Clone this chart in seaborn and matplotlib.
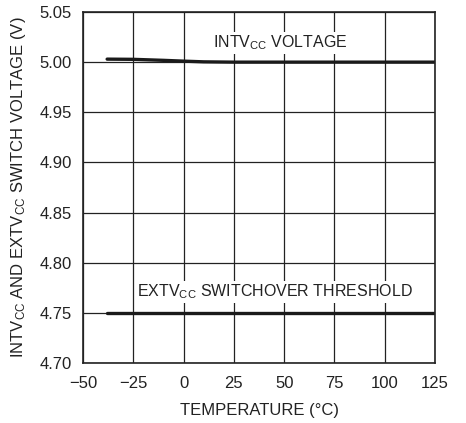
import matplotlib
matplotlib.use("Agg")
import matplotlib.pyplot as plt
import seaborn as sns
import pandas as pd
from matplotlib import font_manager

temp_intv = [-38, -25, -10, 0, 10, 25, 50, 75, 100, 125]
intv = [5.003, 5.0028, 5.0018, 5.001, 5.0003, 5.0, 5.0, 5.0, 5.0, 5.0]
temp_ext = [-38, -25, 0, 25, 50, 75, 100, 125]
ext = [4.75, 4.75, 4.75, 4.75, 4.75, 4.75, 4.75, 4.75]
xticks = [-50, -25, 0, 25, 50, 75, 100, 125]
xtick_labels = ["\u221250", "\u221225", "0", "25", "50", "75", "100", "125"]
yticks = [4.70, 4.75, 4.80, 4.85, 4.90, 4.95, 5.00, 5.05]

sns.set_theme(style="white")
names = {f.name for f in font_manager.fontManager.ttflist}
fam = "Liberation Sans Narrow" if "Liberation Sans Narrow" in names else "Liberation Sans"
plt.rcParams['font.family'] = [fam, 'DejaVu Sans']
plt.rcParams['mathtext.fontset'] = 'custom'
plt.rcParams['mathtext.rm'] = fam
plt.rcParams['mathtext.it'] = fam

fig = plt.figure(figsize=(4.66, 4.23), dpi=100)
ax = fig.add_axes([83/466, 1-363/423, (435-83)/466, (363-12)/423])

df1 = pd.DataFrame({"t": temp_intv, "v": intv})
df2 = pd.DataFrame({"t": temp_ext, "v": ext})
sns.lineplot(data=df1, x="t", y="v", ax=ax, color="#1a1a1a", linewidth=2.4)
sns.lineplot(data=df2, x="t", y="v", ax=ax, color="#1a1a1a", linewidth=2.4)

ax.set_xlim(-50, 125)
ax.set_ylim(4.70, 5.05)
ax.set_xticks(xticks)
ax.set_xticklabels(xtick_labels)
ax.set_yticks(yticks)
ax.set_yticklabels([f"{v:.2f}" for v in yticks])
ax.grid(True, color="#222222", linewidth=0.9)
for s in ax.spines.values():
    s.set_color("#222222")
    s.set_linewidth(1.2)
ax.tick_params(axis="both", labelsize=12, length=0, colors="#222222")
ax.tick_params(axis="x", pad=9)
ax.tick_params(axis="y", pad=8)
ax.set_xlabel("TEMPERATURE (\u00b0C)", fontsize=12, color="#222222", labelpad=9)
ax.set_ylabel("INTV$_{\\mathrm{CC}}$ AND EXTV$_{\\mathrm{CC}}$ SWITCH VOLTAGE (V)", fontsize=12, color="#222222", labelpad=8)

ax.text(48, 5.019, "INTV$_{\\mathrm{CC}}$ VOLTAGE", ha="center", va="center", fontsize=11.5, color="#222222",
        bbox=dict(facecolor="white", edgecolor="none", pad=1))
ax.text(45.5, 4.771, "EXTV$_{\\mathrm{CC}}$ SWITCHOVER THRESHOLD", ha="center", va="center", fontsize=11.5, color="#222222",
        bbox=dict(facecolor="white", edgecolor="none", pad=1))

fig.savefig("out.png", dpi=100)
